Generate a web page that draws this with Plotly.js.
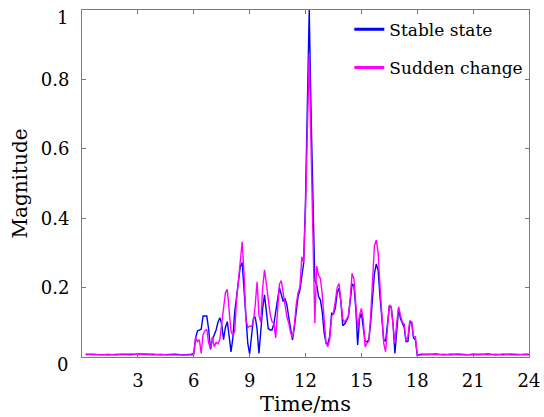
<!DOCTYPE html>
<html><head><meta charset="utf-8">
<script src="https://cdn.plot.ly/plotly-3.0.1.min.js"></script>
<style>html,body{margin:0;padding:0;background:#fff}#chart{width:544px;height:417px}</style>
</head><body><div id="chart"></div>
<script>
// Baseline (before 6 ms and after 18 ms)
const timeBefore = [0.2,0.6,1.0,1.4,1.8,2.2,2.6,3.0,3.4,3.8,4.2,4.6,5.0,5.4,5.8];
const stableBefore = [0.008,0.007,0.008,0.006,0.007,0.008,0.006,0.009,0.007,0.008,0.006,0.007,0.008,0.006,0.007];
const suddenBefore = [0.006,0.008,0.006,0.008,0.006,0.007,0.009,0.007,0.009,0.006,0.008,0.006,0.006,0.008,0.006];

// Active region 6 - 18 ms
const timeActive = [6.0,6.1,6.2,6.3,6.4,6.5,6.6,6.7,6.8,6.9,7.0,7.1,7.2,7.3,7.4,7.5,7.6,7.7,7.8,7.9,
  8.0,8.1,8.2,8.3,8.4,8.5,8.6,8.7,8.8,8.9,9.0,9.1,9.2,9.3,9.4,9.5,9.6,9.7,9.8,9.9,
  10.0,10.1,10.2,10.3,10.4,10.5,10.6,10.7,10.8,10.9,11.0,11.1,11.2,11.3,11.4,11.5,11.6,11.7,11.8,11.9,
  12.0,12.1,12.2,12.3,12.4,12.5,12.6,12.7,12.8,12.9,13.0,13.1,13.2,13.3,13.4,13.5,13.6,13.7,13.8,13.9,
  14.0,14.1,14.2,14.3,14.4,14.5,14.6,14.7,14.8,14.9,15.0,15.1,15.2,15.3,15.4,15.5,15.6,15.7,15.8,15.9,
  16.0,16.1,16.2,16.3,16.4,16.5,16.6,16.7,16.8,16.9,17.0,17.1,17.2,17.3,17.4,17.5,17.6,17.7,17.8,17.9,18.0];
const stableActive = [0.010,0.055,0.075,0.078,0.080,0.118,0.119,0.118,0.080,0.022,0.050,0.065,0.078,0.100,0.113,0.095,0.050,0.085,0.102,0.060,
  0.015,0.055,0.130,0.174,0.225,0.262,0.272,0.200,0.120,0.040,0.008,0.060,0.110,0.116,0.080,0.010,0.085,0.140,0.179,0.120,
  0.082,0.078,0.078,0.095,0.135,0.164,0.200,0.180,0.160,0.169,0.150,0.115,0.075,0.049,0.085,0.130,0.174,0.193,0.230,0.270,
  0.450,0.750,1.000,0.700,0.400,0.220,0.210,0.174,0.164,0.130,0.070,0.040,0.037,0.060,0.126,0.124,0.140,0.185,0.198,0.160,
  0.090,0.095,0.105,0.116,0.160,0.210,0.205,0.140,0.035,0.110,0.126,0.080,0.045,0.044,0.050,0.100,0.170,0.240,0.268,0.250,
  0.174,0.115,0.050,0.045,0.100,0.145,0.145,0.095,0.010,0.080,0.140,0.110,0.097,0.085,0.044,0.045,0.098,0.100,0.055,0.050,0.005];
const suddenActive = [0.005,0.057,0.044,0.050,0.010,0.065,0.075,0.080,0.040,0.025,0.058,0.030,0.042,0.038,0.050,0.090,0.135,0.185,0.195,0.120,
  0.075,0.062,0.075,0.165,0.227,0.295,0.332,0.240,0.110,0.085,0.089,0.088,0.100,0.150,0.217,0.120,0.100,0.200,0.251,0.210,
  0.165,0.125,0.102,0.097,0.055,0.126,0.210,0.220,0.180,0.140,0.116,0.098,0.070,0.056,0.090,0.150,0.185,0.202,0.289,0.272,
  0.420,0.650,0.875,0.600,0.350,0.097,0.262,0.236,0.226,0.180,0.110,0.040,0.030,0.050,0.116,0.128,0.160,0.200,0.212,0.150,
  0.110,0.100,0.108,0.118,0.170,0.241,0.225,0.150,0.080,0.120,0.140,0.110,0.029,0.040,0.045,0.120,0.240,0.320,0.337,0.300,
  0.203,0.110,0.040,0.015,0.080,0.150,0.145,0.080,0.039,0.100,0.145,0.120,0.100,0.095,0.045,0.060,0.105,0.100,0.060,0.058,0.005];

const timeAfter = [18.2,18.6,19.0,19.4,19.8,20.2,20.6,21.0,21.4,21.8,22.2,22.6,23.0,23.4,23.8,24.0];
const stableAfter = [0.008,0.007,0.009,0.006,0.008,0.007,0.006,0.008,0.007,0.009,0.006,0.008,0.007,0.006,0.008,0.007];
const suddenAfter = [0.006,0.008,0.006,0.008,0.006,0.009,0.007,0.006,0.008,0.006,0.008,0.006,0.009,0.007,0.006,0.006];

const xTicks = [3,6,9,12,15,18,21,24];
const yTicks = [0.2,0.4,0.6,0.8];
const seriesNames = ['Stable state','Sudden change'];
const seriesColors = ['#0000ff','#ff00ff'];

const time = timeBefore.concat(timeActive, timeAfter);
const stable = stableBefore.concat(stableActive, stableAfter);
const sudden = suddenBefore.concat(suddenActive, suddenAfter);

const FONT = 'DejaVu Serif';
const AX = '#7a7a7a';

const traces = [
  {x: time, y: stable, type: 'scatter', mode: 'lines', showlegend: false, line: {color: seriesColors[0], width: 1.4}},
  {x: time, y: sudden, type: 'scatter', mode: 'lines', showlegend: false, line: {color: seriesColors[1], width: 1.4}},
  // legend-only entries with thicker sample lines
  {x: [null], y: [null], name: seriesNames[0], type: 'scatter', mode: 'lines', line: {color: seriesColors[0], width: 3}, legendgroup: 'a'},
  {x: [null], y: [null], name: seriesNames[1], type: 'scatter', mode: 'lines', line: {color: seriesColors[1], width: 3}, legendgroup: 'b'}
];

const layout = {
  width: 544, height: 417,
  margin: {l: 82, r: 15, t: 10, b: 60},
  paper_bgcolor: '#fff', plot_bgcolor: '#fff',
  font: {family: FONT, size: 18, color: '#000'},
  showlegend: true,
  legend: {x: 0.598, y: 0.995, xanchor: 'left', yanchor: 'top', bgcolor: 'rgba(255,255,255,0)', borderwidth: 0, tracegroupgap: 13,
    font: {family: FONT, size: 17, color: '#000'}},
  xaxis: {range: [0, 24], tickvals: xTicks, ticktext: xTicks.map(String),
    ticks: 'inside', ticklen: 4, tickcolor: AX, showline: true, linecolor: AX, linewidth: 1, mirror: 'ticks', showgrid: false, zeroline: false,
    tickfont: {family: FONT, size: 18}, ticklabelstandoff: 7,
    title: {text: 'Time/ms', font: {family: FONT, size: 21}, standoff: 6}},
  yaxis: {range: [0, 1], tickvals: yTicks, ticktext: yTicks.map(String),
    ticks: 'inside', ticklen: 4, tickcolor: AX, showline: true, linecolor: AX, linewidth: 1, mirror: 'ticks', showgrid: false, zeroline: false,
    tickfont: {family: FONT, size: 18}, ticklabelstandoff: 8,
    title: {text: 'Magnitude', font: {family: FONT, size: 20}, standoff: 7}},
  annotations: [
    {xref: 'paper', yref: 'y', x: 0, y: 0, xanchor: 'right', yanchor: 'middle', xshift: -12, yshift: -7, text: '0', showarrow: false, font: {family: FONT, size: 18}},
    {xref: 'paper', yref: 'y', x: 0, y: 1, xanchor: 'right', yanchor: 'middle', xshift: -12, yshift: -7, text: '1', showarrow: false, font: {family: FONT, size: 18}}
  ]
};

Plotly.newPlot('chart', traces, layout, {displayModeBar: false, staticPlot: true});
</script></body></html>
